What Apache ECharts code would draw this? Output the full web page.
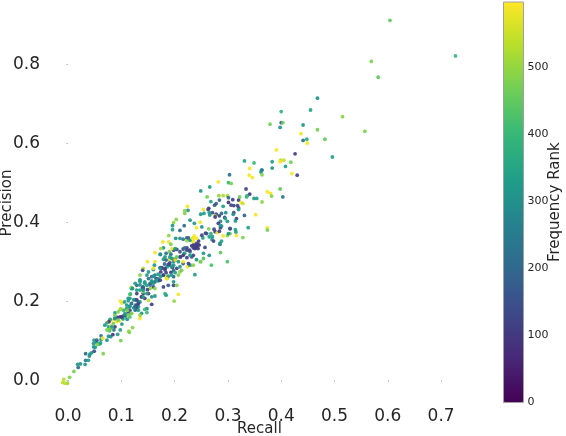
<!DOCTYPE html>
<html><head><meta charset="utf-8">
<style>html,body{margin:0;padding:0;background:#fff}#c{width:566px;height:436px}</style>
<script src="https://cdn.jsdelivr.net/npm/echarts@6/dist/echarts.min.js"></script>
</head><body><div id="c"></div>
<script>
const xTicks=[0,0.1,0.2,0.3,0.4,0.5,0.6,0.7];
const yTicks=[0,0.2,0.4,0.6,0.8];
const rankTicks=[0,100,200,300,400,500];

const recallUpper=[.604,.727,.569,.582,.468,.400,.455,.515,.400,.403,.379,.398,.441,.557,.468,.437,.482,.448,.441,.449,.391,.426,.496,.399,.405,.398,.383,.418,.383,.408,.420,.430,.398,.380,.382,.403];
const precisionUpper=[.911,.821,.807,.767,.714,.680,.684,.667,.652,.652,.648,.640,.646,.630,.634,.624,.610,.610,.607,.600,.583,.573,.565,.557,.557,.553,.553,.552,.537,.541,.523,.519,.484,.473,.466,.464];
const rankUpper=[450,400,480,450,310,390,350,490,170,460,470,310,320,480,470,590,450,370,220,590,590,110,340,540,550,590,340,470,300,340,590,120,450,590,480,230];

const recallMiddle=[.331,.349,.341,.340,.346,.363,.364,.362,.364,.282,.301,.306,.303,.266,.249,.334,.261,.283,.291,.299,.322,.336,.341,.335,.374,.364,.349,.354,.268,.284,.278,.275,.301,.301,.309,.306,.311,.320,.325,.328,.318,.291,.264,.263,.224,.225,.219,.219,.254,.255,.249,.265,.271,.278,.276,.284,.288,.296,.294,.320,.311,.310,.320,.331,.352,.316,.286,.288,.299,.314,.203,.198,.196,.196,.210,.218,.229,.237,.248,.241,.251,.264,.258,.268,.276,.280,.286,.304,.314,.315,.304,.299,.316,.328,.338,.374,.374,.189,.178,.189,.193,.202,.216,.223,.237,.235,.234,.223,.229,.253,.265,.270,.288,.285,.257,.244,.241,.235,.244,.223,.216,.204,.198,.195,.179,.174,.163,.173,.190,.184,.193,.210,.219,.229,.235,.232,.265,.286,.254,.241,.249,.269,.299,.238,.216,.201,.190,.210,.204,.198,.191,.179,.181,.163,.149,.141,.140,.135,.162,.160,.173,.176,.184,.196,.198,.193,.210,.207,.201,.198,.184,.186,.174,.163,.157,.148,.151,.169,.224,.229,.235,.144,.135,.129,.154,.163,.169,.160,.154,.141,.129,.119,.116,.141,.138,.144,.157,.163,.151,.132,.126,.188,.198,.204,.182,.184,.207,.199,.157,.148,.144,.132,.129,.116,.119,.138,.135,.148,.126];
const precisionMiddle=[.555,.550,.536,.519,.513,.532,.532,.527,.520,.502,.500,.498,.520,.489,.479,.484,.464,.467,.467,.467,.464,.467,.471,.464,.477,.451,.460,.460,.452,.456,.447,.443,.462,.450,.457,.443,.442,.456,.450,.447,.442,.440,.435,.432,.440,.430,.429,.422,.432,.422,.420,.424,.424,.420,.416,.416,.422,.424,.412,.436,.424,.420,.432,.417,.419,.409,.402,.390,.402,.403,.407,.399,.391,.381,.379,.391,.405,.397,.400,.386,.388,.383,.372,.371,.376,.373,.386,.383,.381,.375,.371,.366,.366,.361,.386,.386,.380,.366,.350,.350,.344,.359,.357,.360,.365,.361,.354,.353,.354,.360,.363,.356,.352,.344,.336,.343,.338,.335,.333,.335,.332,.331,.329,.333,.335,.333,.323,.318,.325,.321,.319,.325,.321,.325,.316,.312,.316,.323,.308,.305,.300,.291,.300,.267,.295,.308,.306,.312,.312,.300,.291,.306,.294,.300,.300,.283,.278,.266,.291,.280,.285,.283,.272,.285,.277,.273,.274,.266,.272,.262,.262,.257,.263,.266,.262,.266,.257,.257,.287,.291,.291,.249,.249,.240,.245,.249,.251,.236,.232,.232,.228,.232,.217,.219,.211,.207,.211,.213,.202,.198,.190,.240,.240,.240,.219,.215,.217,.200,.192,.181,.179,.186,.181,.187,.169,.169,.156,.171,.177];
const rankMiddle=[340,400,590,590,590,340,220,300,480,590,400,470,220,340,310,130,470,500,520,520,470,400,110,400,590,490,330,330,350,200,180,170,200,100,110,130,120,110,590,550,130,340,100,120,590,310,490,480,590,330,320,340,150,120,520,120,200,300,130,110,100,300,320,200,590,130,300,300,330,300,490,500,310,340,210,200,320,320,590,590,300,480,110,370,100,590,110,140,340,340,480,480,590,480,340,590,470,500,590,590,480,310,230,150,590,590,590,500,340,330,340,310,340,230,130,110,100,120,110,100,130,130,140,590,320,520,590,320,470,220,230,150,480,200,120,160,310,450,430,300,500,430,430,330,150,500,540,300,450,320,200,320,200,590,590,540,150,480,310,300,100,110,120,130,200,120,500,480,330,200,590,550,300,230,180,310,220,340,590,300,490,320,330,200,190,170,400,110,500,120,330,330,470,120,110,100,300,310,540,330,340,180,120,480,400,340,590,500,110,280,400,330,120,330,500,320,590,400,210];

const recallLower=[-.008,-.010,-.006,-.001,.003,.011,.019,.018,.023,.032,.033,.038,.033,.041,.040,.044,.049,.066,.048,.049,.054,.059,.055,.061,.051,.048,.054,.062,.062,.099,.065,.073,.080,.076,.084,.093,.086,.073,.076,.080,.073,.078,.088,.098,.082,.076,.088,.091,.096,.079,.088,.098,.093,.103,.085,.081,.114,.115,.121,.101,.104,.108,.111,.116,.109,.098,.101,.106,.113,.115,.117,.119,.121,.116,.088,.094,.104,.110,.098,.107,.113];
const precisionLower=[.002,-.006,-.008,-.008,.007,.022,.032,.040,.041,.040,.050,.050,.067,.066,.061,.069,.073,.067,.093,.101,.095,.091,.090,.094,.083,.084,.101,.112,.103,.100,.106,.101,.110,.111,.115,.116,.127,.145,.135,.131,.127,.125,.135,.127,.152,.148,.156,.148,.150,.154,.170,.179,.159,.155,.143,.137,.124,.121,.133,.142,.163,.160,.154,.160,.179,.200,.195,.198,.201,.186,.218,.235,.232,.207,.164,.173,.177,.181,.160,.164,.169];
const rankLower=[530,540,540,510,480,470,220,340,300,320,230,330,210,310,300,330,150,480,320,330,310,400,480,340,340,320,180,230,320,470,590,320,320,310,100,320,250,320,330,500,470,400,110,340,590,590,130,590,590,320,330,480,100,310,470,550,510,480,490,310,330,400,310,420,590,590,590,340,340,320,400,500,310,340,470,480,400,320,100,220,120];

const recallDense=[.135,.140,.144,.149,.154,.157,.160,.165,.169,.174,.179,.182,.186,.191,.198,.201,.195,.176,.169,.160,.151,.141,.135,.188,.182,.173,
.182,.188,.194,.201,.207,.211,.218,.223,.228,.232,.238,.241,.246,.235,.219,.210,.226,.201,.191,.184,
.235,.240,.234,.245,.251,.260,.271,.274,.284,.282,.291,.301,.304,.285,.273,.286,.266,.276,.295,
.069,.077,.082,.088,.094,.101,.107,.113,.116,.123,.129,.135,.126,.119,.110,.113,.129,.135,.141,.076,.099];
const precisionDense=[.241,.235,.245,.229,.241,.251,.263,.257,.268,.274,.266,.279,.287,.297,.291,.304,.308,.285,.253,.245,.219,.224,.253,.263,.312,.319,
.283,.293,.287,.304,.300,.312,.321,.310,.329,.340,.333,.346,.342,.350,.335,.359,.360,.333,.312,.304,
.342,.335,.359,.352,.367,.371,.363,.382,.377,.397,.365,.371,.384,.346,.352,.391,.418,.413,.409,
.139,.148,.135,.156,.152,.160,.169,.165,.177,.183,.190,.198,.203,.194,.190,.207,.219,.228,.236,.127,.181];
const rankDense=[320,120,330,110,200,320,310,130,330,110,320,120,330,120,300,110,320,130,200,320,110,480,330,300,330,300,
110,130,320,110,330,100,320,110,120,110,100,130,100,590,230,300,200,330,320,190,
110,100,590,110,130,150,320,130,110,110,590,310,150,320,130,320,320,110,340,
330,120,340,320,470,100,320,480,130,320,110,320,100,200,320,330,120,330,200,480,520];

const recallBand=[.129,.132,.138,.141,.148,.157,.166,.173,.179,.185,.194,.204,.210,.216,.223,.229,.238,.241,.254,.248,.216,.201,.173,.160,.151,.135,.126,.123,.111,.119,.132,.135,.126,.141,.148,.163,.179,.198,.213,.226];
const precisionBand=[.203,.194,.211,.228,.240,.249,.253,.253,.266,.257,.266,.283,.287,.316,.329,.316,.342,.359,.321,.300,.300,.304,.283,.283,.274,.253,.245,.203,.177,.169,.177,.164,.186,.211,.219,.232,.236,.249,.278,.295];
const rankBand=[120,120,110,320,330,310,330,120,110,590,320,120,320,100,130,320,110,590,320,470,590,590,300,590,320,340,320,310,470,470,340,500,200,340,320,490,120,320,470,120];

const recall=recallUpper.concat(recallMiddle,recallLower,recallDense,recallBand);
const precision=precisionUpper.concat(precisionMiddle,precisionLower,precisionDense,precisionBand);
const rank=rankUpper.concat(rankMiddle,rankLower,rankDense,rankBand);
const points=recall.map((r,i)=>[r,precision[i],rank[i]]);

const viridis=['#440154','#482878','#3e4989','#31688e','#26828e','#1f9e89','#35b779','#6ece58','#b5de2b','#fde725'];
const ink='#262626', faint='#c8c8c8';
const chart=echarts.init(document.getElementById('c'),null,{renderer:'canvas'});
chart.setOption({
  animation:false,
  backgroundColor:'#fff',
  textStyle:{fontFamily:'DejaVu Sans'},
  grid:[
    {left:43,top:3,width:437,height:400,show:false,outerBoundsMode:'none'},
    {left:503.5,top:2,width:20,height:400.5,show:true,z:10,backgroundColor:'transparent',borderColor:'#a0a0a0',borderWidth:1,outerBoundsMode:'none'}
  ],
  xAxis:[
    {gridIndex:0,type:'value',min:-0.047,max:0.773,
     name:'Recall',nameLocation:'middle',nameGap:19,nameMoveOverlap:false,
     nameTextStyle:{fontSize:15,color:ink,fontFamily:'DejaVu Sans',padding:[0,4,0,0]},
     splitLine:{show:false},axisLine:{show:false},
     axisTick:{show:true,length:2,customValues:xTicks,lineStyle:{color:faint}},
     axisLabel:{fontSize:17,color:ink,margin:5,customValues:xTicks,formatter:v=>v.toFixed(1)}},
    {gridIndex:1,type:'value',show:false,min:0,max:1}
  ],
  yAxis:[
    {gridIndex:0,type:'value',min:-0.058,max:0.955,
     name:'Precision',nameLocation:'middle',nameGap:28,nameMoveOverlap:false,
     nameTextStyle:{fontSize:15,color:ink,fontFamily:'DejaVu Sans'},
     splitLine:{show:false},axisLine:{show:false},
     axisTick:{show:true,length:2,customValues:yTicks,lineStyle:{color:faint}},
     axisLabel:{fontSize:17,color:ink,margin:3,padding:[3,0,0,0],customValues:yTicks,formatter:v=>v.toFixed(1)}},
    {gridIndex:1,type:'value',min:0,max:598,position:'right',
     name:'Frequency Rank',nameLocation:'middle',nameGap:24,nameRotate:90,nameMoveOverlap:false,
     nameTextStyle:{fontSize:15,color:ink,fontFamily:'DejaVu Sans'},
     splitLine:{show:false},axisLine:{show:false},
     axisTick:{show:true,length:3,customValues:rankTicks,lineStyle:{color:'#777'}},
     axisLabel:{fontSize:11,color:ink,margin:4,customValues:rankTicks}}
  ],
  visualMap:{
    type:'continuous',seriesIndex:0,dimension:2,min:0,max:598,
    left:503.5,top:2,itemWidth:20,itemHeight:400.5,padding:0,
    calculable:false,realtime:false,text:null,showLabel:false,
    inRange:{color:viridis},
    borderColor:'#999',borderWidth:0
  },
  series:[{
    type:'scatter',xAxisIndex:0,yAxisIndex:0,data:points,
    symbolSize:3.8,itemStyle:{opacity:0.92}
  }]
});
</script></body></html>
